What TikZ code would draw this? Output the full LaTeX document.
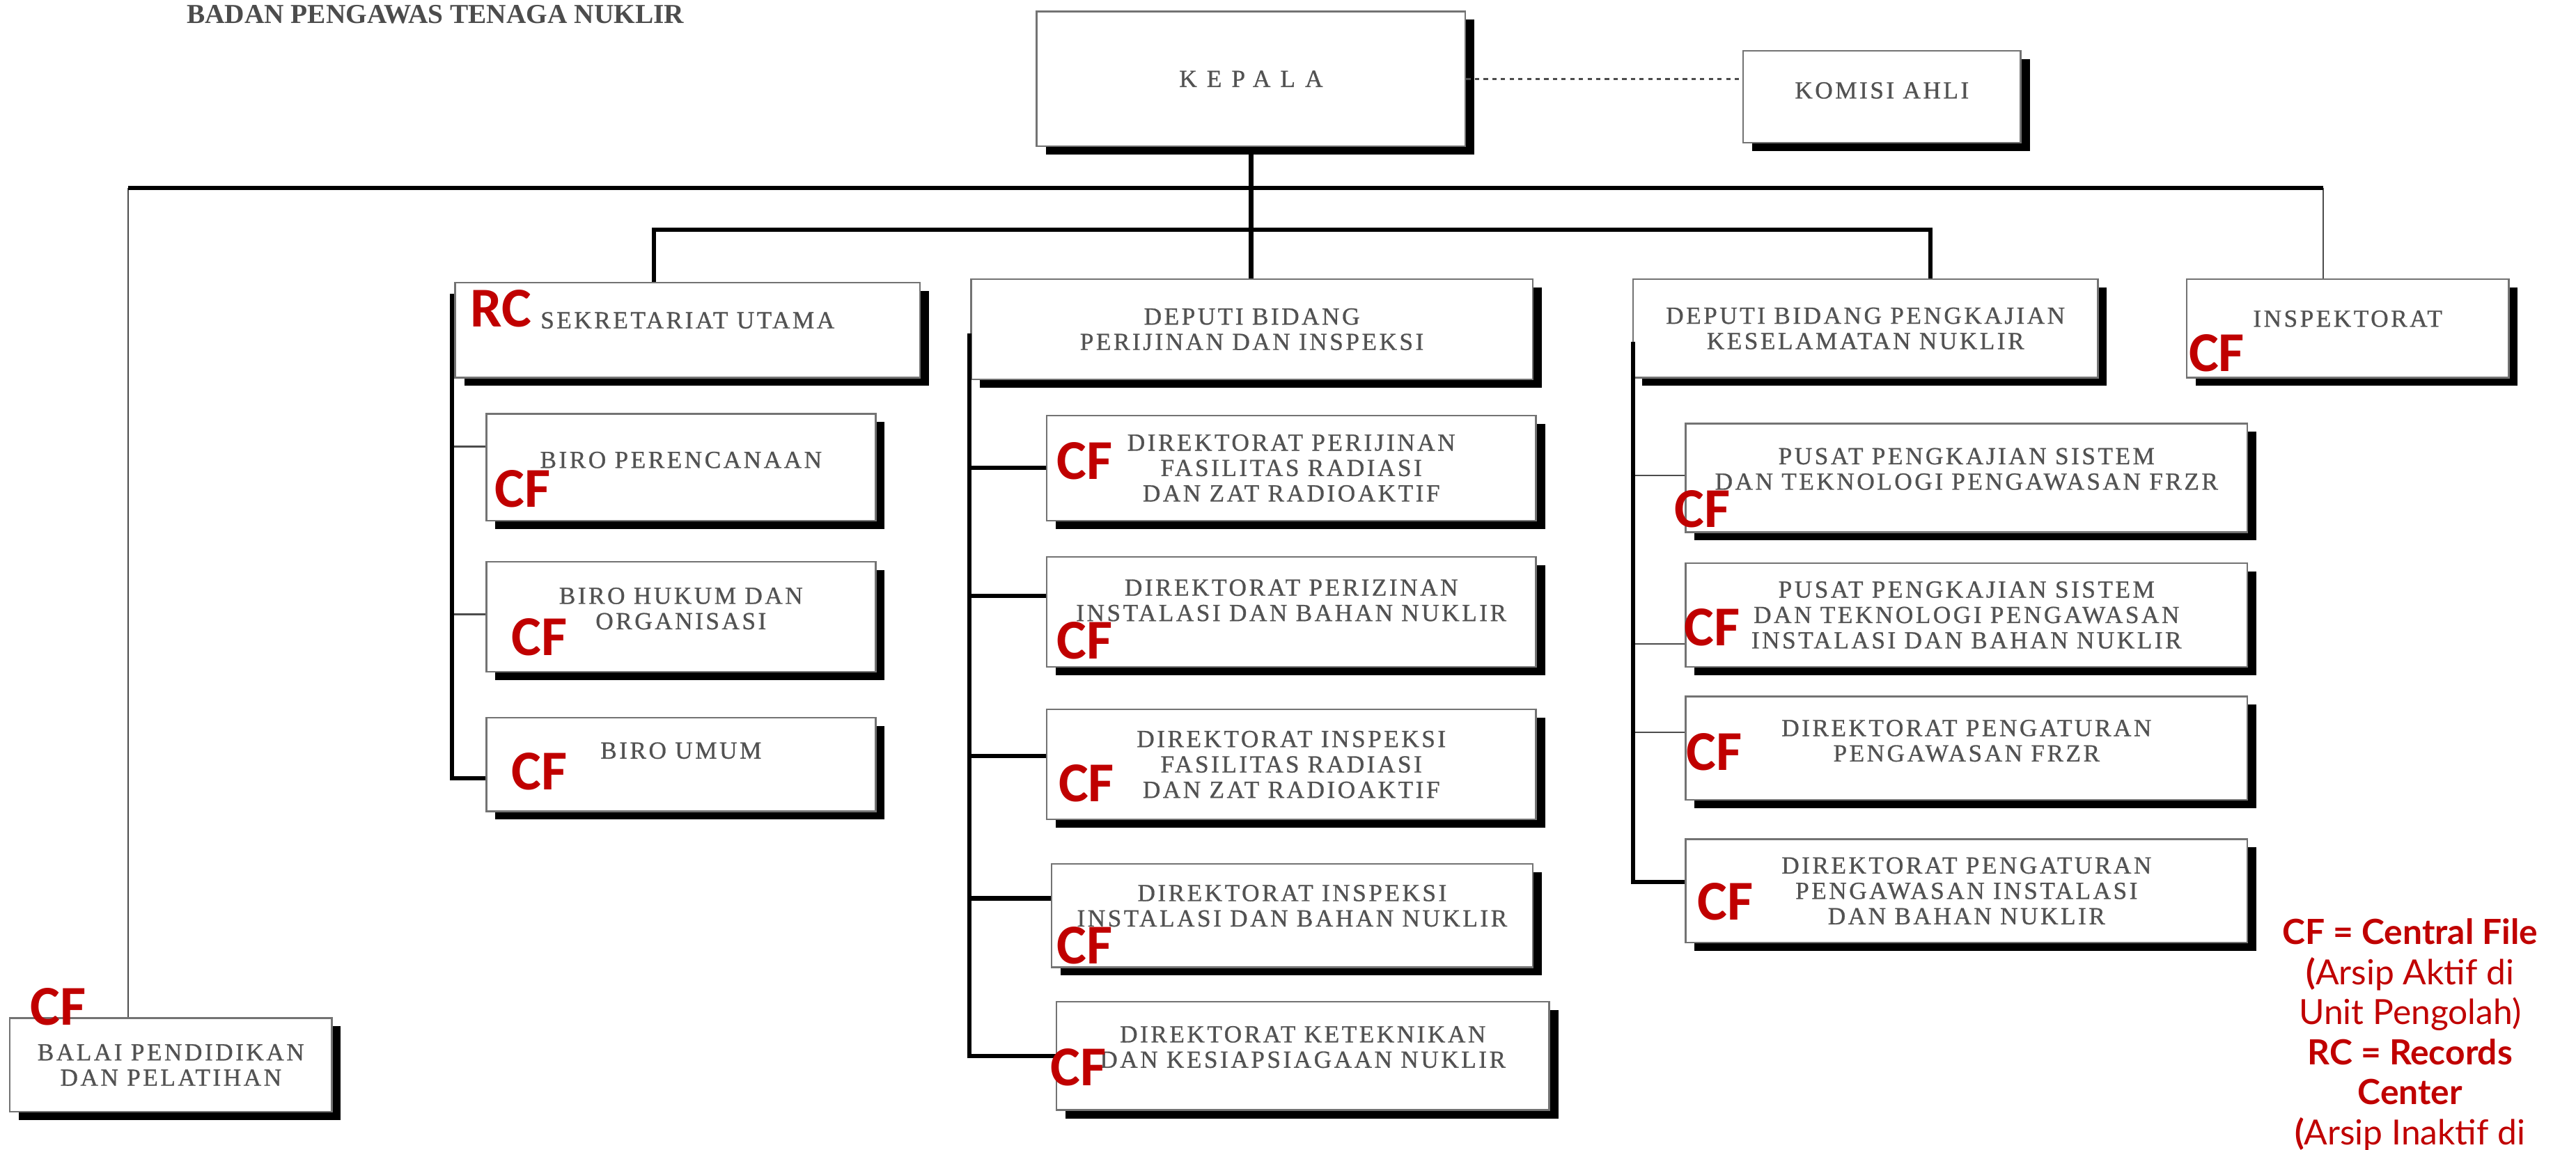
\documentclass[tikz,border=0pt]{standalone}
\usepackage{fontspec}
\setmainfont{Liberation Serif}
\newfontfamily\orgfont[LetterSpace=10, FakeBold=0.8]{Liberation Serif}
\newfontfamily\cffont{Carlito}
\newfontfamily\legendfont{Lato}
\usepackage{xcolor}
\definecolor{cfred}{RGB}{192,0,0}
\usetikzlibrary{
  positioning,
  calc,
  shadows}

\begin{document}
\begin{tikzpicture}[x=0.02cm, y=-0.02cm,
  unit/.style={draw=black!55, line width=0.6pt, fill=white, inner sep=0pt, align=center,
    text=black!68, font=\orgfont\fontsize{8.5}{8.8}\selectfont,
    drop shadow={shadow xshift=0.11cm, shadow yshift=-0.1cm, fill=black, opacity=1}},
  cf/.style={anchor=base west, inner sep=0pt, text=cfred, font=\cffont\bfseries\fontsize{19.5}{20}\selectfont},
  trunk/.style={line width=1.5pt},
  twig/.style={line width=0.6pt, black!70}]
\useasboundingbox (0,0) rectangle (1568,700);
\node[anchor=base, inner sep=0pt, text=black!70, font=\fontsize{9.5}{11}\selectfont\bfseries] (judul) at (265,14) {BADAN PENGAWAS TENAGA NUKLIR};
\node[unit, minimum width=5.22cm, minimum height=1.64cm] (kepala) at (761.5,48) {\addfontfeature{LetterSpace=40}KEPALA};
\node[unit, minimum width=3.38cm, minimum height=1.12cm, text depth=0.16cm] (komisi) at (1145.5,59) {KOMISI AHLI};
\node[unit, minimum width=5.66cm, minimum height=1.16cm, text depth=0.24cm] (sekretariat) at (418.5,201) {SEKRETARIAT UTAMA};
\node[unit, minimum width=6.84cm, minimum height=1.22cm] (deputiizin) at (762,200.5) {DEPUTI BIDANG\\PERIJINAN DAN INSPEKSI};
\node[unit, minimum width=5.66cm, minimum height=1.2cm] (deputikaji) at (1135.5,200) {DEPUTI BIDANG PENGKAJIAN\\KESELAMATAN NUKLIR};
\node[unit, minimum width=3.92cm, minimum height=1.2cm, text depth=0.24cm] (inspektorat) at (1429,200) {INSPEKTORAT};
\node[unit, minimum width=3.92cm, minimum height=1.14cm] (balai) at (104,648.5) {BALAI PENDIDIKAN\\DAN PELATIHAN};
\node[unit, minimum width=4.74cm, minimum height=1.3cm, text depth=0.18cm] (biro1) at (414.5,284.5) {BIRO PERENCANAAN};
\node[unit, minimum width=4.74cm, minimum height=1.34cm, text depth=0.2cm] (biro2) at (414.5,375.5) {BIRO HUKUM DAN\\ORGANISASI};
\node[unit, minimum width=4.74cm, minimum height=1.14cm, text depth=0.34cm] (biro3) at (414.5,465.5) {BIRO UMUM};
\node[unit, minimum width=5.96cm, minimum height=1.28cm] (dir1) at (786,285) {DIREKTORAT PERIJINAN\\FASILITAS RADIASI\\DAN ZAT RADIOAKTIF};
\node[unit, minimum width=5.96cm, minimum height=1.34cm, text depth=0.28cm] (dir2) at (786,372.5) {DIREKTORAT PERIZINAN\\INSTALASI DAN BAHAN NUKLIR};
\node[unit, minimum width=5.96cm, minimum height=1.34cm] (dir3) at (786,465.5) {DIREKTORAT INSPEKSI\\FASILITAS RADIASI\\DAN ZAT RADIOAKTIF};
\node[unit, minimum width=5.86cm, minimum height=1.26cm, text depth=0.24cm] (dir4) at (786.5,557.5) {DIREKTORAT INSPEKSI\\INSTALASI DAN BAHAN NUKLIR};
\node[unit, minimum width=6cm, minimum height=1.32cm, text depth=0.22cm] (dir5) at (793,643) {DIREKTORAT KETEKNIKAN\\DAN KESIAPSIAGAAN NUKLIR};
\node[unit, minimum width=6.84cm, minimum height=1.32cm, text depth=0.22cm] (pusat1) at (1197,291) {PUSAT PENGKAJIAN SISTEM\\DAN TEKNOLOGI PENGAWASAN FRZR};
\node[unit, minimum width=6.84cm, minimum height=1.26cm] (pusat2) at (1197,374.5) {PUSAT PENGKAJIAN SISTEM\\DAN TEKNOLOGI PENGAWASAN\\INSTALASI DAN BAHAN NUKLIR};
\node[unit, minimum width=6.84cm, minimum height=1.26cm, text depth=0.18cm] (atur1) at (1197,455.5) {DIREKTORAT PENGATURAN\\PENGAWASAN FRZR};
\node[unit, minimum width=6.84cm, minimum height=1.26cm] (atur2) at (1197,542.5) {DIREKTORAT PENGATURAN\\PENGAWASAN INSTALASI\\DAN BAHAN NUKLIR};
\coordinate (barL) at (78,114.5);
\coordinate (barR) at (1414,114.5);
\coordinate (barS) at (398,140);
\coordinate (barD) at (1175,140);
\coordinate (sekL) at (275,179);
\coordinate (izinL) at (590,203);
\coordinate (kajiL) at (994,208);
\draw[twig] (barL) -- (barL |- balai.north);
\draw[twig] (barR) -- (barR |- inspektorat.north);
\draw[black!70, line width=0.8pt, dash pattern=on 1.5pt off 1.5pt] (kepala.east) -- (kepala.east -| komisi.west);
\draw[twig] ([yshift=0.25cm]biro1.west) -| (sekL);
\draw[twig] ([yshift=0.03cm]biro2.west) -| (sekL);
\draw[twig] ([yshift=0.03cm]pusat1.west) -| (kajiL);
\draw[twig] ([yshift=-0.35cm]pusat2.west) -| (kajiL);
\draw[twig] ([yshift=0.19cm]atur1.west) -| (kajiL);
\draw[trunk] (barL) -- (barR);
\draw[trunk] (kepala.south) -- (kepala.south |- deputiizin.north);
\draw[trunk] (barS |- sekretariat.north) -- (barS) -- (barD) -- (barD |- deputikaji.north);
\draw[trunk] (sekL) |- ([yshift=-0.17cm]biro3.west);
\draw[trunk] (izinL) |- (dir5.west);
\draw[trunk] (dir1.west) -| (izinL);
\draw[trunk] ([yshift=0.19cm]dir2.west) -| (izinL);
\draw[trunk] ([yshift=0.1cm]dir3.west) -| (izinL);
\draw[trunk] ([yshift=0.21cm]dir4.west) -| (izinL);
\draw[trunk] (kajiL) |- ([yshift=0.11cm]atur2.west);
\node[cf] (rc) at (286,199) {RC};
\node[cf] (cfinsp) at (1332,226) {CF};
\node[cf] (cfbiro1) at (301,309) {CF};
\node[cf] (cfbiro2) at (311,399) {CF};
\node[cf] (cfbiro3) at (311,481) {CF};
\node[cf] (cfdir1) at (643,292) {CF};
\node[cf] (cfdir2) at (643,401) {CF};
\node[cf] (cfdir3) at (644,488) {CF};
\node[cf] (cfdir4) at (643,587) {CF};
\node[cf] (cfdir5) at (639,661) {CF};
\node[cf] (cfpusat1) at (1019,321) {CF};
\node[cf] (cfpusat2) at (1025,393) {CF};
\node[cf] (cfatur1) at (1026,469) {CF};
\node[cf] (cfatur2) at (1033,560) {CF};
\node[cf] (cfbalai) at (18,624) {CF};
\node[anchor=north, inner sep=0pt, align=center, text=cfred, font=\legendfont\fontsize{12}{13.9}\selectfont] (legenda) at (1467,559) {\textbf{CF = Central File}\\\textbf{(}Arsip Aktif di\\Unit Pengolah)\\\textbf{RC = Records}\\\textbf{Center}\\\textbf{(}Arsip Inaktif di};
\end{tikzpicture}
\end{document}
